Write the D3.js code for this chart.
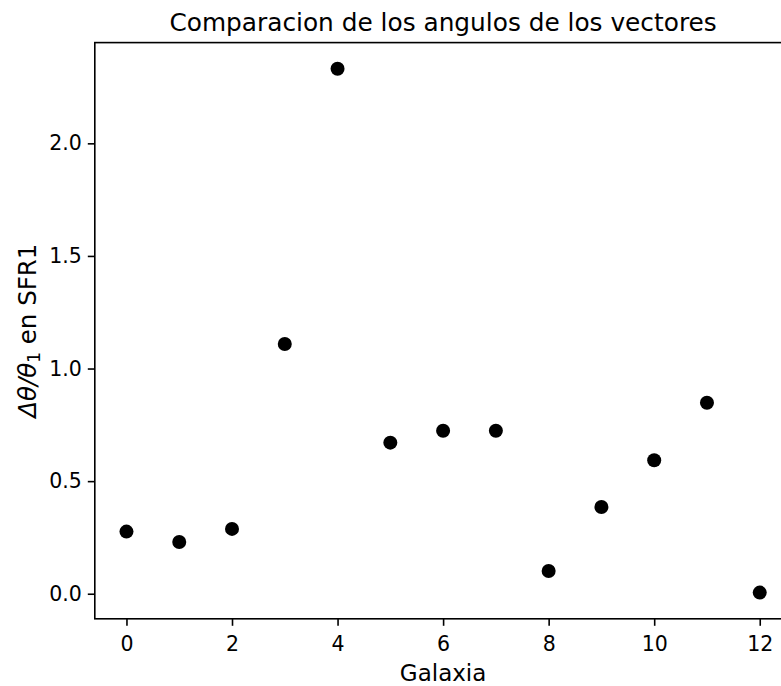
<!DOCTYPE html>
<html>
<head>
<meta charset="utf-8">
<script src="https://cdn.jsdelivr.net/npm/d3@7"></script>
<style>
  html, body { margin: 0; padding: 0; background: #fff; }
  svg { display: block; }
  text { font-family: "DejaVu Sans", sans-serif; fill: #000; }
</style>
</head>
<body>
<svg id="chart" width="781" height="686"></svg>
<script>
const galaxias = [0, 1, 2, 3, 4, 5, 6, 7, 8, 9, 10, 11, 12];
const ratios = [0.276, 0.230, 0.288, 1.109, 2.331, 0.671, 0.724, 0.724, 0.101, 0.385, 0.593, 0.848, 0.005];
const xTicks = [0, 2, 4, 6, 8, 10, 12];
const yTicks = [0.0, 0.5, 1.0, 1.5, 2.0];

(function () {
const svg = d3.select("#chart");
const pLeft = 94.8, pTop = 42.6, pBottom = 618.8, pRight = 791.4;

// matplotlib-style 5% margins
const xmin = d3.min(galaxias), xmax = d3.max(galaxias);
const ymin = d3.min(ratios), ymax = d3.max(ratios);
const xm = (xmax - xmin) * 0.05, ym = (ymax - ymin) * 0.05;

const x = d3.scaleLinear().domain([xmin - xm, xmax + xm]).range([pLeft, pRight]);
const y = d3.scaleLinear().domain([ymin - ym, ymax + ym]).range([pBottom, pTop]);

// frame
svg.append("rect")
  .attr("x", pLeft).attr("y", pTop)
  .attr("width", pRight - pLeft).attr("height", pBottom - pTop)
  .attr("fill", "none").attr("stroke", "#000").attr("stroke-width", 1.6);

// axes
const xAxis = svg.append("g")
  .attr("transform", `translate(0,${pBottom})`)
  .call(d3.axisBottom(x).tickValues(xTicks).tickFormat(d3.format("d")).tickSize(7).tickPadding(6));
const yAxis = svg.append("g")
  .attr("transform", `translate(${pLeft},0)`)
  .call(d3.axisLeft(y).tickValues(yTicks).tickFormat(d3.format(".1f")).tickSize(7).tickPadding(6));

[xAxis, yAxis].forEach(g => {
  g.select(".domain").remove();
  g.selectAll(".tick line").attr("stroke", "#000").attr("stroke-width", 1.6);
  g.selectAll(".tick text").attr("font-size", 20.5).attr("font-family", "DejaVu Sans").attr("fill", "#000");
});
xAxis.selectAll(".tick text").attr("dy", "0.95em");

// points
svg.append("g").selectAll("circle")
  .data(galaxias)
  .join("circle")
  .attr("cx", (d) => x(d))
  .attr("cy", (d, i) => y(ratios[i]))
  .attr("r", 7)
  .attr("fill", "#000");

// title
svg.append("text")
  .attr("x", (pLeft + pRight) / 2).attr("y", 31)
  .attr("text-anchor", "middle")
  .attr("font-size", 24.8)
  .text("Comparacion de los angulos de los vectores");

// x label
svg.append("text")
  .attr("x", (pLeft + pRight) / 2).attr("y", 681)
  .attr("text-anchor", "middle")
  .attr("font-size", 23)
  .text("Galaxia");

// y label
const yl = svg.append("text")
  .attr("transform", `translate(36,${(pTop + pBottom) / 2}) rotate(-90)`)
  .attr("text-anchor", "middle")
  .attr("font-size", 24.5);
yl.append("tspan").attr("font-style", "italic").text("Δθ/θ");
yl.append("tspan").attr("font-size", 17).attr("dy", 4).text("1");
yl.append("tspan").attr("dy", -4).text(" en SFR1");
})();
</script>
</body>
</html>
